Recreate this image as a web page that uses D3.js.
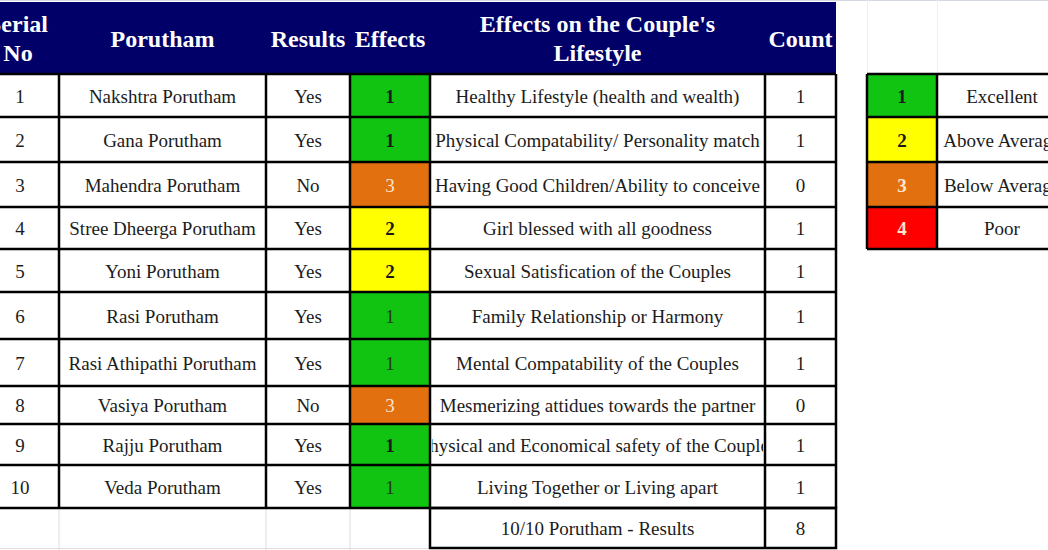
<!DOCTYPE html>
<html><head><meta charset="utf-8">
<script src="https://cdn.jsdelivr.net/npm/d3@7"></script>
<style>
html,body{margin:0;padding:0;background:#fff;overflow:hidden;}
svg{display:block;}
text{font-family:"Liberation Serif","DejaVu Serif",serif;}
</style></head>
<body>
<svg id="chart" width="1048" height="550"></svg>
<script>
// ---- data ----
const headers = [["Serial", "No"], ["Porutham"], ["Results"], ["Effects"], ["Effects on the Couple's", "Lifestyle"], ["Count"]];
const serials = [1, 2, 3, 4, 5, 6, 7, 8, 9, 10];
const poruthams = ["Nakshtra Porutham", "Gana Porutham", "Mahendra Porutham", "Stree Dheerga Porutham", "Yoni Porutham", "Rasi Porutham", "Rasi Athipathi Porutham", "Vasiya Porutham", "Rajju Porutham", "Veda Porutham"];
const results = ["Yes", "Yes", "No", "Yes", "Yes", "Yes", "Yes", "No", "Yes", "Yes"];
const effects = [1, 1, 3, 2, 2, 1, 1, 3, 1, 1];
const lifestyles = ["Healthy Lifestyle (health and wealth)", "Physical Compatability/ Personality match", "Having Good Children/Ability to conceive", "Girl blessed with all goodness", "Sexual Satisfication of the Couples", "Family Relationship or Harmony", "Mental Compatability of the Couples", "Mesmerizing attidues towards the partner", "Physical and Economical safety of the Couples", "Living Together or Living apart"];
const counts = [1, 1, 0, 1, 1, 1, 1, 0, 1, 1];
const summaryLabel = "10/10 Porutham - Results";
const summaryTotal = 8;
const legendLevels = [1, 2, 3, 4];
const legendLabels = ["Excellent", "Above Average", "Below Average", "Poor"];

// ---- layout (spreadsheet geometry) ----
const colEdges = [-21, 59, 266, 350, 430, 765, 836];
const rowHeights = [43, 45, 45, 42, 43, 47, 47, 38, 41, 43];
const headerTop = 2, headerBottom = 74, summaryH = 40;
const legendCols = [867, 937, 1075];
const plainEffect = new Set([5, 6, 9]); // rows whose effect digit is not bold (index)

const svg = d3.select("#chart");
const rowTops = d3.cumsum([headerBottom, ...rowHeights]);
const rowEdge = i => i === 0 ? headerBottom : rowTops[i];
const nRows = serials.length;
const bodyBottom = rowEdge(nRows);

const color = d3.scaleOrdinal().domain([1, 2, 3, 4]).range(["#12c412", "#ffff00", "#e2700e", "#ff0000"]);
const digitColor = d3.scaleOrdinal().domain([1, 2, 3, 4]).range(["#1a1a1a", "#1a1a1a", "#fbe6cc", "#fbe6cc"]);
const textCol = "#1c1c1c";
const FS = 19;

// faint spreadsheet gridlines
const grid = svg.append("g").attr("stroke", "#dcdcdc").attr("stroke-width", 1);
grid.append("line").attr("x1", 0).attr("x2", 1048).attr("y1", 0.5).attr("y2", 0.5).attr("stroke", "#d4d8e0");
[59, 266, 350].forEach(x => grid.append("line").attr("x1", x).attr("x2", x).attr("y1", bodyBottom).attr("y2", 550));
grid.append("line").attr("x1", 0).attr("x2", 430).attr("y1", 548.5).attr("y2", 548.5);
[867, 937].forEach(x => grid.append("line").attr("x1", x + 0.5).attr("x2", x + 0.5).attr("y1", 0).attr("y2", headerBottom).attr("stroke", "#f0f0f0"));

// header band
svg.append("rect").attr("x", 0).attr("y", headerTop).attr("width", colEdges[6]).attr("height", headerBottom - headerTop).attr("fill", "#000068");
const hdr = svg.append("g").attr("fill", "#ffffff").attr("font-weight", "bold").attr("font-size", 24).attr("text-anchor", "middle");
headers.forEach((lines, c) => {
  const cx = (colEdges[c] + colEdges[c + 1]) / 2 + (c === 0 ? -1 : 0);
  const baseY = lines.length === 1 ? 47 : 32;
  lines.forEach((t, k) => hdr.append("text").attr("x", cx).attr("y", baseY + k * 29).text(t));
});

// effect cell fills
const body = svg.append("g");
effects.forEach((e, i) => {
  body.append("rect").attr("x", colEdges[3]).attr("y", rowEdge(i)).attr("width", colEdges[4] - colEdges[3]).attr("height", rowHeights[i]).attr("fill", color(e));
});

// clip paths per lifestyle cell
const defs = svg.append("defs");
lifestyles.forEach((_, i) => {
  defs.append("clipPath").attr("id", "clip" + i).append("rect")
    .attr("x", colEdges[4] + 2).attr("y", rowEdge(i)).attr("width", colEdges[5] - colEdges[4] - 4).attr("height", rowHeights[i]);
});

const txt = svg.append("g").attr("font-size", FS).attr("fill", textCol).attr("text-anchor", "middle");
const cxOf = c => (colEdges[c] + colEdges[c + 1]) / 2;
serials.forEach((s, i) => {
  const cy = rowEdge(i) + rowHeights[i] / 2 + 7;
  txt.append("text").attr("x", cxOf(0) + 1).attr("y", cy).text(s);
  txt.append("text").attr("x", cxOf(1)).attr("y", cy).text(poruthams[i]);
  txt.append("text").attr("x", cxOf(2)).attr("y", cy).text(results[i]);
  const e = effects[i];
  txt.append("text").attr("x", cxOf(3)).attr("y", cy).text(e)
    .attr("font-weight", (plainEffect.has(i) || e === 3) ? "normal" : "bold")
    .attr("fill", e === 1 && plainEffect.has(i) ? "#213a21" : digitColor(e));
  txt.append("text").attr("x", cxOf(4)).attr("y", cy).attr("clip-path", "url(#clip" + i + ")").text(lifestyles[i]);
  txt.append("text").attr("x", cxOf(5)).attr("y", cy).text(counts[i]);
});
// summary row
const sy = bodyBottom + summaryH / 2 + 7;
txt.append("text").attr("x", cxOf(4)).attr("y", sy).text(summaryLabel);
txt.append("text").attr("x", cxOf(5)).attr("y", sy).text(summaryTotal);

// table borders
const bd = svg.append("g").attr("stroke", "#000").attr("stroke-width", 2.5).attr("fill", "none");
for (let i = 1; i <= nRows; i++) {
  bd.append("line").attr("x1", 0).attr("x2", colEdges[6]).attr("y1", rowEdge(i)).attr("y2", rowEdge(i));
}
bd.append("line").attr("x1", 0).attr("x2", colEdges[6]).attr("y1", headerBottom).attr("y2", headerBottom);
colEdges.slice(1).forEach(x => bd.append("line").attr("x1", x).attr("x2", x).attr("y1", headerBottom).attr("y2", bodyBottom));
bd.append("rect").attr("x", colEdges[4]).attr("y", bodyBottom).attr("width", colEdges[6] - colEdges[4]).attr("height", summaryH);
bd.append("line").attr("x1", colEdges[5]).attr("x2", colEdges[5]).attr("y1", bodyBottom).attr("y2", bodyBottom + summaryH);

// legend
const lg = svg.append("g");
const lgTop = headerBottom;
const lgH = [43, 45, 45, 42];
const lgY = d3.cumsum([lgTop, ...lgH]);   // [117,162,207,249]
const lgEdge = i => i === 0 ? lgTop : lgY[i];
legendLevels.forEach((lv, i) => {
  const y0 = lgEdge(i);
  lg.append("rect").attr("x", legendCols[0]).attr("y", y0).attr("width", legendCols[1] - legendCols[0]).attr("height", lgH[i]).attr("fill", color(lv));
  const cy = y0 + lgH[i] / 2 + 7;
  lg.append("text").attr("x", (legendCols[0] + legendCols[1]) / 2).attr("y", cy).attr("text-anchor", "middle")
    .attr("font-size", FS).attr("font-weight", "bold").attr("fill", digitColor(lv)).text(lv);
  const lab = lg.append("text").attr("y", cy).attr("font-size", FS).attr("fill", textCol).text(legendLabels[i]);
  const w = lab.node().getComputedTextLength();
  const cx = 1002;
  lab.attr("x", Math.max(cx - w / 2, legendCols[1] + 3));
});
const lb = svg.append("g").attr("stroke", "#000").attr("stroke-width", 2.5).attr("fill", "none");
for (let i = 0; i <= 4; i++) lb.append("line").attr("x1", legendCols[0]).attr("x2", 1048).attr("y1", lgEdge(i)).attr("y2", lgEdge(i));
[legendCols[0], legendCols[1]].forEach(x => lb.append("line").attr("x1", x).attr("x2", x).attr("y1", lgTop).attr("y2", lgEdge(4)));
</script>
</body></html>
